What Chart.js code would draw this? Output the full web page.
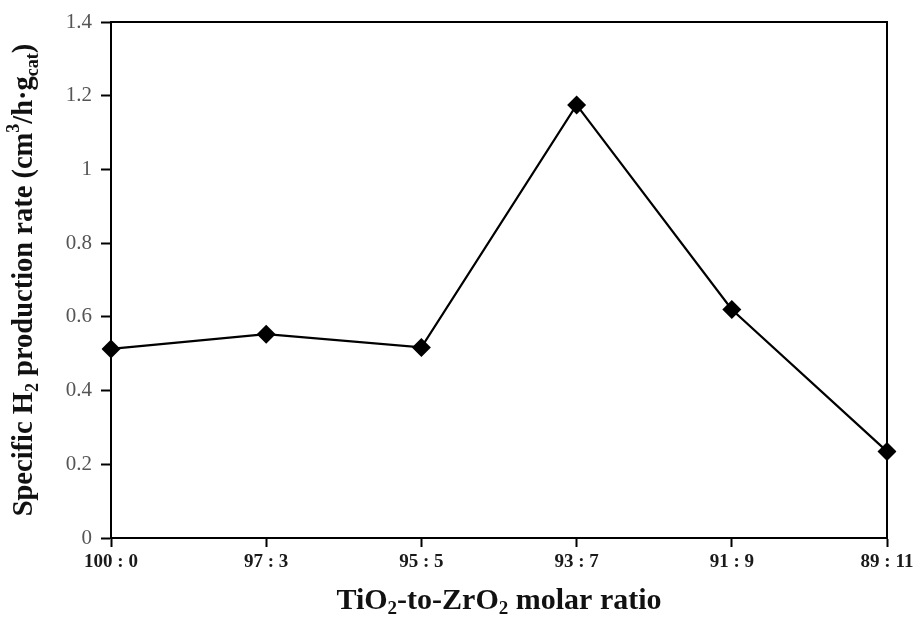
<!DOCTYPE html>
<html>
<head>
<meta charset="utf-8">
<script src="https://cdn.jsdelivr.net/npm/chart.js@4"></script>
<style>
html,body{margin:0;padding:0;background:#fff;}
#wrap{width:921px;height:622px;}
</style>
</head>
<body>
<div id="wrap"><canvas id="myChart" width="921" height="622"></canvas></div>
<script>
// data
var ratios=["100 : 0","97 : 3","95 : 5","93 : 7","91 : 9","89 : 11"];
var h2Rate=[0.513,0.553,0.517,1.175,0.62,0.235];
var yMin=0, yMax=1.4, yStep=0.2;

var yTitle=[["Specific H",""],["2","sub"],[" production rate (cm",""],["3","sup"],["/h\u00b7g",""],["cat","sub"],[")",""]];
var xTitle=[["TiO",""],["2","sub"],["-to-ZrO",""],["2","sub"],[" molar ratio",""]];

var serif='"Liberation Serif", "Times New Roman", serif';

function richText(ctx,parts,size){
  var big='bold '+size+'px '+serif, small='bold '+Math.round(size*0.62)+'px '+serif;
  var w=0;
  parts.forEach(function(p){ctx.font=p[1]?small:big; w+=ctx.measureText(p[0]).width;});
  var x=-w/2;
  parts.forEach(function(p){
    ctx.font=p[1]?small:big;
    var dy=p[1]=='sub'?size*0.28:(p[1]=='sup'?-size*0.36:0);
    ctx.fillText(p[0],x,dy);
    x+=ctx.measureText(p[0]).width;
  });
}

var frame={
  id:'frame',
  afterDraw:function(c){
    var a=c.chartArea, ctx=c.ctx;
    ctx.save();
    ctx.strokeStyle='#000';
    ctx.lineWidth=2;
    ctx.beginPath();
    ctx.moveTo(a.left,a.top);ctx.lineTo(a.right,a.top);ctx.lineTo(a.right,a.bottom);
    ctx.stroke();
    ctx.fillStyle='#111';
    ctx.textAlign='left';
    ctx.textBaseline='middle';
    // x title
    ctx.save();
    ctx.translate((a.left+a.right)/2,601);
    richText(ctx,xTitle,30);
    ctx.restore();
    // y title
    ctx.save();
    ctx.translate(25,(a.top+a.bottom)/2);
    ctx.rotate(-Math.PI/2);
    richText(ctx,yTitle,28.5);
    ctx.restore();
    ctx.restore();
  }
};

var myChart=document.getElementById("myChart").getContext('2d');
var chart=new Chart(myChart,{
  type:'line',
  data:{
    labels:ratios,
    datasets:[{
      label:'H2',
      data:h2Rate,
      borderColor:'#000',
      backgroundColor:'#000',
      borderWidth:2.2,
      lineTension:0,
      pointStyle:'rectRot',
      pointRadius:9.5,
      pointBorderWidth:0,
      pointBackgroundColor:'#000'
    }]
  },
  options:{
    responsive:false,
    animation:false,
    layout:{padding:{left:40,right:34,top:22,bottom:0}},
    plugins:{legend:{display:false},tooltip:{enabled:false}},
    scales:{
      x:{
        offset:false,
        grid:{drawOnChartArea:false,tickLength:9,tickColor:'#000',tickWidth:2},
        border:{color:'#000',width:2},
        ticks:{color:'#1a1a1a',padding:4,maxRotation:0,font:{family:serif,size:19,weight:'bold'}},
        afterFit:function(s){s.height=84;}
      },
      y:{
        min:yMin,max:yMax,
        grid:{drawOnChartArea:false,tickLength:10,tickColor:'#000',tickWidth:2},
        border:{color:'#000',width:2},
        ticks:{stepSize:yStep,color:'#555',padding:9,font:{family:serif,size:21},
          callback:function(v){return String(Math.round(v*10)/10);}},
        afterFit:function(s){s.width=71;}
      }
    }
  },
  plugins:[frame]
});
</script>
</body>
</html>
